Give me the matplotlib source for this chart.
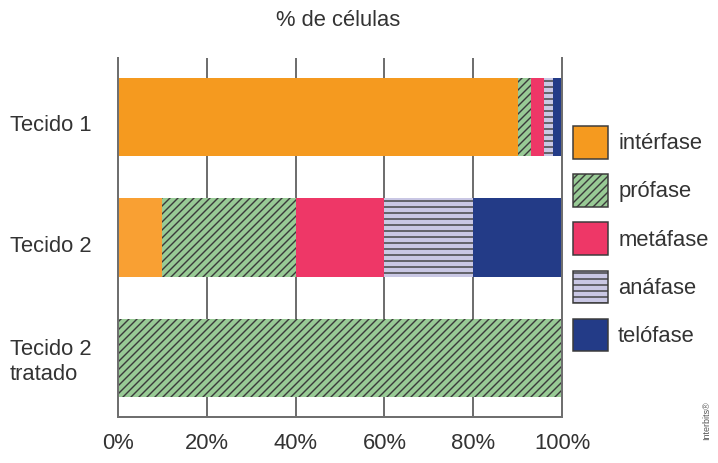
import matplotlib
matplotlib.use('Agg')
from matplotlib import pyplot as plt
from matplotlib.patches import Patch
from matplotlib.transforms import ScaledTranslation
import numpy as np

plt.rcParams['font.family'] = ['Liberation Sans', 'DejaVu Sans']
plt.rcParams['hatch.linewidth'] = 1.4

# data (% de células)
tecidos = ['Tecido 1', 'Tecido 2', 'Tecido 2\ntratado']
fases = ['intérfase', 'prófase', 'metáfase', 'anáfase', 'telófase']
interfase = [90, 10, 0]
profase = [3, 30, 100]
metafase = [3, 20, 0]
anafase = [2, 20, 0]
telofase = [2, 20, 0]
xticks = [0, 20, 40, 60, 80, 100]

cores = ['#F59A1F', '#98CA95', '#EE3767', '#C9C7E4', '#233B87']
hatches = [None, '///', None, '--', None]
series = [interfase, profase, metafase, anafase, telofase]

# dpi 72 so points == pixels
fig = plt.figure(figsize=(718/72, 463/72), dpi=72)
ax = fig.add_axes([118/718, 1-417/463, (562-118)/718, (417-58)/463])

y = np.arange(len(tecidos))
left = np.zeros(len(tecidos))
for vals, c, h in zip(series, cores, hatches):
	v = np.array(vals, dtype=float)
	bars = ax.barh(y, v, left=left, height=0.65, color=c, hatch=h,
		edgecolor='#3a3a3a', linewidth=0, zorder=2)
	left += v
# interfase do tecido 2 um pouco mais clara
ax.patches[1].set_facecolor('#F9A033')

ax.set_xlim(0, 100)
ax.set_ylim(2.49, -0.49)
ax.set_xticks(xticks)
ax.set_xticklabels(['%d%%' % t for t in xticks], fontsize=22, color='#333333')
ax.set_yticks(y)
ax.set_yticklabels(tecidos, fontsize=22, color='#333333', ha='left', multialignment='left')
ax.tick_params(axis='x', length=0, pad=16)
ax.tick_params(axis='y', length=0, pad=108)
# single-line labels sit a bit below the bar centre in the original
for lbl in ax.get_yticklabels()[:2]:
	lbl.set_transform(lbl.get_transform() + ScaledTranslation(0, -6/72, fig.dpi_scale_trans))
ax.xaxis.grid(True, color='#6f6f6f', linewidth=2, zorder=1)
ax.set_axisbelow(True)
ax.spines['top'].set_visible(False)
for s in ['left', 'bottom', 'right']:
	ax.spines[s].set_color('#6f6f6f')
	ax.spines[s].set_linewidth(2)

fig.text(338/718, 1-20/463, '% de células', fontsize=22, color='#333333', ha='center', va='center')

handles = [Patch(facecolor=c, edgecolor='#3a3a3a', hatch=h, linewidth=1.5) for c, h in zip(cores, hatches)]
fig.legend(handles, fases, loc='upper left', bbox_to_anchor=(573/718, 1-126/463),
	frameon=False, fontsize=22, handlelength=1.6, handleheight=1.9,
	labelspacing=0.71, handletextpad=0.45, borderpad=0, borderaxespad=0,
	labelcolor='#333333')

fig.text(707/718, 1-440/463, 'Interbits®', rotation=90, fontsize=9, color='#555555', ha='center', va='bottom')

plt.savefig('out.png', dpi=72)
